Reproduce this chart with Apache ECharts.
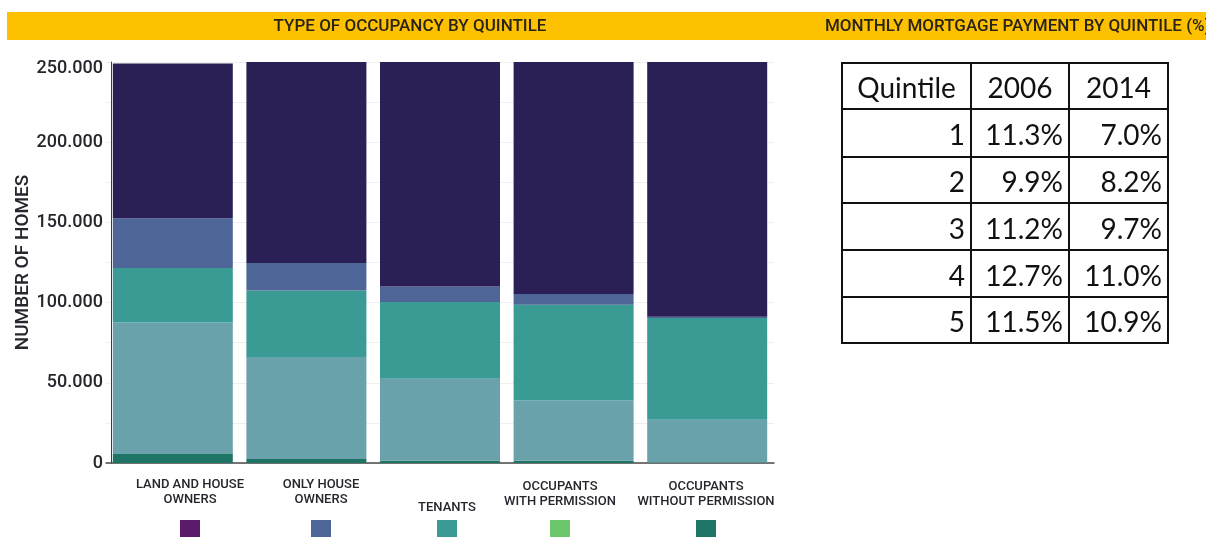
<!DOCTYPE html>
<html>
<head>
<meta charset="utf-8">
<title>Type of occupancy by quintile</title>
<script src="https://cdn.jsdelivr.net/npm/echarts@6/dist/echarts.min.js"></script>
<style>
  html, body { margin: 0; padding: 0; background: #ffffff; }
  #chart { width: 1206px; height: 537px; }
</style>
</head>
<body>
<div id="chart"></div>
<script>
// Occupancy type names, shown as the legend under the bars
const occupancyTypes = [
  'LAND AND HOUSE\nOWNERS',
  'ONLY HOUSE\nOWNERS',
  'TENANTS',
  'OCCUPANTS\nWITH PERMISSION',
  'OCCUPANTS\nWITHOUT PERMISSION'
];

// Quintiles 1..5 on the x axis
const quintiles = ['1', '2', '3', '4', '5'];

// Number of homes per quintile, by occupancy type
const landAndHouseOwners   = [96400, 125300, 139900, 144600, 158800];
const onlyHouseOwners      = [31000, 17100, 9700, 6700, 800];
const tenants              = [34000, 41500, 47900, 59700, 63400];
const withPermission       = [82000, 63600, 51100, 37600, 26700];
const withoutPermission    = [5600, 2500, 1400, 1400, 300];

// Y axis ticks
const yTicks = [0, 50000, 100000, 150000, 200000, 250000];

// Monthly mortgage payment by quintile (% of income)
const tableHeader = ['Quintile', '2006', '2014'];
const tableQuintiles = [1, 2, 3, 4, 5];
const mortgage2006 = ['11.3%', '9.9%', '11.2%', '12.7%', '11.5%'];
const mortgage2014 = ['7.0%', '8.2%', '9.7%', '11.0%', '10.9%'];

// ---------------------------------------------------------------
const din = 'Roboto, "Liberation Sans", sans-serif';
const textColor = '#26262e';

// bar colours, bottom to top of each stack
const barColors = {
  withoutPermission: '#1e7465',
  withPermission: '#6aa2ac',
  tenants: '#3a9a94',
  onlyHouse: '#4e6598',
  landHouse: '#2b2055'
};
// legend swatch colours, same order as occupancyTypes
const swatchColors = ['#5b1b6d', '#4f6699', '#3a9b95', '#6cc66c', '#1f7566'];

function fmtThousands(v) {
  return String(v).replace(/\B(?=(\d{3})+(?!\d))/g, '.');
}

function makeSeries(name, data, color) {
  return {
    name: name,
    type: 'bar',
    stack: 'homes',
    data: data,
    barWidth: 120,
    itemStyle: { color: color },
    emphasis: { disabled: true }
  };
}

// ---- graphic: header band, legend, table ----
const graphics = [];

graphics.push({
  type: 'rect', left: 7, top: 12, z: 0,
  shape: { width: 1199, height: 28 },
  style: { fill: '#fdc100' }
});
graphics.push({
  type: 'text', x: 410, y: 27, z: 1,
  style: {
    text: 'TYPE OF OCCUPANCY BY QUINTILE', font: '500 17px ' + din,
    fill: '#2a2416', textAlign: 'center', textVerticalAlign: 'middle'
  }
});
graphics.push({
  type: 'text', x: 825, y: 27, z: 1,
  style: {
    text: 'MONTHLY MORTGAGE PAYMENT BY QUINTILE (%)', font: '500 17px ' + din,
    fill: '#2a2416', textAlign: 'left', textVerticalAlign: 'middle'
  }
});

// legend under the bars: label text with a colour swatch below
const legendCenters = [190, 321, 447, 560, 706];
occupancyTypes.forEach(function (label, i) {
  const twoLines = label.indexOf('\n') >= 0;
  const textY = twoLines ? (i >= 3 ? 494.5 : 492.5) : 508;
  graphics.push({
    type: 'text', x: legendCenters[i], y: textY,
    style: {
      text: label, font: '500 13px ' + din, lineHeight: 15,
      fill: textColor, textAlign: 'center', textVerticalAlign: 'middle'
    }
  });
  graphics.push({
    type: 'rect', x: legendCenters[i] - 10, y: 520,
    shape: { width: 20, height: 20 },
    style: { fill: swatchColors[i] }
  });
});

// mortgage table
const colEdges = [842, 971, 1069, 1168];
const rowEdges = [63, 109, 157, 203, 250, 297, 343];
const tableFont = '28px Lato, "Open Sans", sans-serif';
const rows = [tableHeader].concat(tableQuintiles.map(function (q, i) {
  return [String(q), mortgage2006[i], mortgage2014[i]];
}));
rows.forEach(function (row, r) {
  const yMid = (rowEdges[r] + rowEdges[r + 1]) / 2 + 3;
  row.forEach(function (cell, c) {
    const isHeader = r === 0;
    graphics.push({
      type: 'text',
      x: isHeader ? (colEdges[c] + colEdges[c + 1]) / 2 : colEdges[c + 1] - 6,
      y: yMid,
      style: {
        text: cell, font: tableFont, fill: '#111111',
        textAlign: isHeader ? 'center' : 'right', textVerticalAlign: 'middle'
      }
    });
  });
});
rowEdges.forEach(function (y) {
  graphics.push({
    type: 'line',
    shape: { x1: colEdges[0], y1: y, x2: colEdges[3], y2: y },
    style: { stroke: '#111111', lineWidth: 2 }
  });
});
colEdges.forEach(function (x) {
  graphics.push({
    type: 'line',
    shape: { x1: x, y1: rowEdges[0] - 1, x2: x, y2: rowEdges[6] + 1 },
    style: { stroke: '#111111', lineWidth: 2 }
  });
});

// ---------------------------------------------------------------
const chart = echarts.init(document.getElementById('chart'), null, { renderer: 'canvas' });

chart.setOption({
  backgroundColor: '#ffffff',
  animation: false,
  grid: { left: 106, right: 432, top: 62, bottom: 74, containLabel: false },
  xAxis: {
    type: 'category',
    data: quintiles,
    offset: 3,
    axisLine: { show: true, lineStyle: { color: '#4a4a4a', width: 1.5 } },
    axisTick: { show: false },
    axisLabel: { show: false },
    splitLine: { show: false }
  },
  yAxis: {
    type: 'value',
    min: yTicks[0],
    max: yTicks[yTicks.length - 1],
    interval: yTicks[1] - yTicks[0],
    offset: -5,
    name: 'NUMBER OF HOMES',
    nameLocation: 'middle',
    nameGap: 78,
    nameMoveOverlap: false,
    nameTextStyle: { fontFamily: din, fontWeight: 500, fontSize: 19, color: textColor },
    axisLine: { show: true, lineStyle: { color: '#3a3a3a', width: 1 } },
    axisTick: { show: false },
    axisLabel: {
      fontFamily: din, fontWeight: 500, fontSize: 18, color: textColor, margin: 8, lineHeight: 12,
      formatter: function (v) {
        const s = fmtThousands(v);
        return v === yTicks[yTicks.length - 1] ? ' \n' + s : s;
      }
    },
    splitLine: { show: true, lineStyle: { color: '#efefef', width: 1 } },
    minorTick: { show: false, splitNumber: 2 },
    minorSplitLine: { show: true, lineStyle: { color: '#efefef', width: 1 } }
  },
  series: [
    makeSeries('OCCUPANTS WITHOUT PERMISSION', withoutPermission, barColors.withoutPermission),
    makeSeries('OCCUPANTS WITH PERMISSION', withPermission, barColors.withPermission),
    makeSeries('TENANTS', tenants, barColors.tenants),
    makeSeries('ONLY HOUSE OWNERS', onlyHouseOwners, barColors.onlyHouse),
    makeSeries('LAND AND HOUSE OWNERS', landAndHouseOwners, barColors.landHouse)
  ],
  graphic: graphics
});
</script>
</body>
</html>
